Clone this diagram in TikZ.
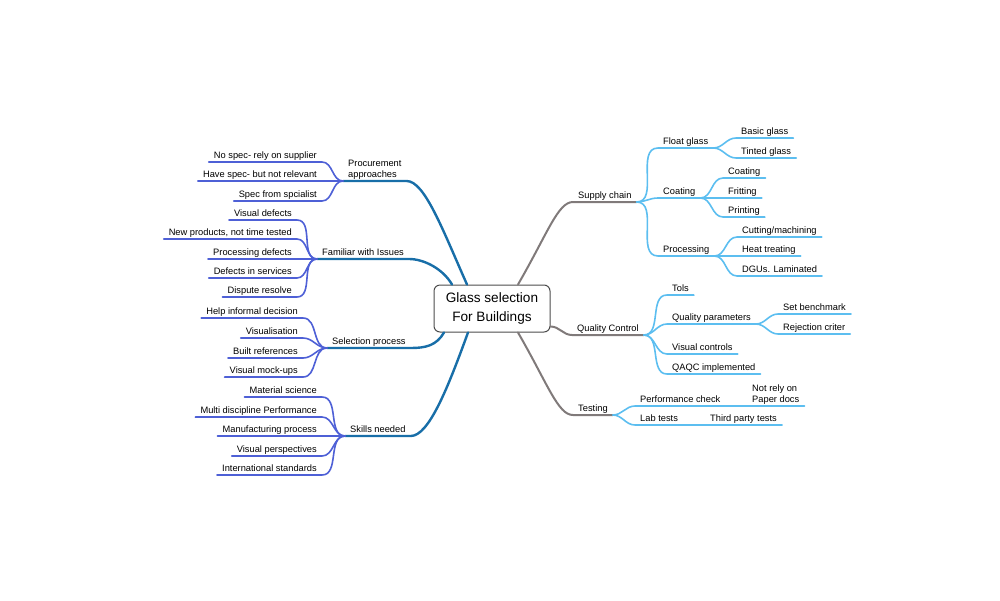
\documentclass[tikz,border=0pt]{standalone}
\usepackage{fontspec}
\setmainfont{Liberation Sans}
\usetikzlibrary{positioning}
\definecolor{trunkblue}{RGB}{24,110,168}
\definecolor{twigblue}{RGB}{78,96,214}
\definecolor{trunkgrey}{RGB}{128,122,122}
\definecolor{twigsky}{RGB}{92,190,240}

\begin{document}
\begin{tikzpicture}[
        x=1pt, y=1pt,
        topic/.style = {draw=black!70, rounded corners=6pt, line width=1pt, align=center, minimum width=116pt, minimum height=47pt, font=\fontsize{13.6}{19}\selectfont},
        tag/.style = {inner xsep=5pt, inner ysep=1.5pt, text height=7pt, text depth=2pt, font=\fontsize{9.3}{11}\selectfont},
        tagsw/.style = {tag, anchor=south west},
        tagse/.style = {tag, anchor=south east},
        trunkL/.style = {draw=trunkblue, line width=2.4pt, line cap=round},
        twigL/.style = {draw=twigblue, line width=1.6pt, line cap=round},
        trunkR/.style = {draw=trunkgrey, line width=2pt, line cap=round},
        twigR/.style = {draw=twigsky, line width=1.6pt, line cap=round}
    ]
        \useasboundingbox (0,0) rectangle (1000,-600);

        % Centre topic
        \node (glass) [topic] at (492,-308.5) {Glass selection\\For Buildings};

        % Supply chain
        \node (supply) [tagsw] at (573,-202) {Supply chain};
        \node (float) [tagsw] at (658,-148) {Float glass};
        \node (coat) [tagsw] at (658,-198) {Coating};
        \node (process) [tagsw] at (658,-256) {Processing};
        \node (basic) [tagsw] at (736,-138) {Basic glass};
        \node (tinted) [tagsw] at (736,-158) {Tinted glass};
        \node (coating) [tagsw] at (723,-178) {Coating};
        \node (fritting) [tagsw] at (723,-198) {Fritting};
        \node (printing) [tagsw] at (723,-217) {Printing};
        \node (cutting) [tagsw] at (737,-237) {Cutting/machining};
        \node (heat) [tagsw] at (737,-256) {Heat treating};
        \node (dgu) [tagsw] at (737,-276) {DGUs. Laminated};

        % Quality control
        \node (qc) [tagsw] at (572,-335) {Quality Control};
        \node (tols) [tagsw] at (667,-295) {Tols};
        \node (qparam) [tagsw] at (667,-324) {Quality parameters};
        \node (vctrl) [tagsw] at (667,-354) {Visual controls};
        \node (qaqc) [tagsw] at (667,-374) {QAQC implemented};
        \node (bench) [tagsw] at (778,-314) {Set benchmark};
        \node (reject) [tagsw] at (778,-334) {Rejection criter};

        % Testing
        \node (testing) [tagsw] at (573,-415) {Testing};
        \node (perf) [tagsw] at (635,-406) {Performance check};
        \node (lab) [tagsw] at (635,-425) {Lab tests};
        \node (paper) [tagsw, align=left, text height=, text depth=] at (747,-406) {Not rely on\\Paper docs};
        \node (third) [tagsw] at (705,-425) {Third party tests};

        % Procurement
        \node (procure) [tagsw, align=left, text height=, text depth=] at (343,-181) {Procurement\\approaches};
        \node (nospec) [tagse] at (322,-162) {No spec- rely on supplier};
        \node (havespec) [tagse] at (322,-181) {Have spec- but not relevant};
        \node (specfrom) [tagse] at (322,-201) {Spec from spcialist};

        % Familiar with issues
        \node (familiar) [tagsw] at (317,-259) {Familiar with Issues};
        \node (vdefect) [tagse] at (297,-220) {Visual defects};
        \node (newprod) [tagse] at (297,-239) {New products, not time tested};
        \node (pdefect) [tagse] at (297,-259) {Processing defects};
        \node (sdefect) [tagse] at (297,-278) {Defects in services};
        \node (dispute) [tagse] at (297,-297) {Dispute resolve};

        % Selection process
        \node (select) [tagsw] at (327,-348) {Selection process};
        \node (help) [tagse] at (303,-318) {Help informal decision};
        \node (visual) [tagse] at (303,-338) {Visualisation};
        \node (built) [tagse] at (303,-358) {Built references};
        \node (mockup) [tagse] at (303,-377) {Visual mock-ups};

        % Skills needed
        \node (skills) [tagsw] at (345,-436) {Skills needed};
        \node (matsci) [tagse] at (322,-397) {Material science};
        \node (multi) [tagse] at (322,-417) {Multi discipline Performance};
        \node (manuf) [tagse] at (322,-436) {Manufacturing process};
        \node (vpersp) [tagse] at (322,-456) {Visual perspectives};
        \node (intl) [tagse] at (322,-475) {International standards};

        % Right branches
        \draw [trunkR] ([xshift=26pt]glass.north) to[out=60, in=180, out distance=60pt, in distance=15pt] (supply.south west) -- (supply.south east);
        \draw [trunkR] ([yshift=-18pt]glass.east) to[out=0, in=180] (qc.south west) -- (qc.south east);
        \draw [trunkR] ([xshift=26pt]glass.south) to[out=-60, in=180, out distance=60pt, in distance=15pt] (testing.south west) -- (testing.south east);

        \draw [twigR] (supply.south east) to[out=0, in=180] (float.south west) -- (float.south east);
        \draw [twigR] (supply.south east) to[out=0, in=180] (coat.south west) -- (coat.south east);
        \draw [twigR] (supply.south east) to[out=0, in=180] (process.south west) -- (process.south east);
        \draw [twigR] (float.south east) to[out=0, in=180] (basic.south west) -- (basic.south east);
        \draw [twigR] (float.south east) to[out=0, in=180] (tinted.south west) -- (tinted.south east);
        \draw [twigR] (coat.south east) to[out=0, in=180] (coating.south west) -- (coating.south east);
        \draw [twigR] (coat.south east) to[out=0, in=180] (fritting.south west) -- (fritting.south east);
        \draw [twigR] (coat.south east) to[out=0, in=180] (printing.south west) -- (printing.south east);
        \draw [twigR] (process.south east) to[out=0, in=180] (cutting.south west) -- (cutting.south east);
        \draw [twigR] (process.south east) to[out=0, in=180] (heat.south west) -- (heat.south east);
        \draw [twigR] (process.south east) to[out=0, in=180] (dgu.south west) -- (dgu.south east);

        \draw [twigR] (qc.south east) to[out=0, in=180] (tols.south west) -- (tols.south east);
        \draw [twigR] (qc.south east) to[out=0, in=180] (qparam.south west) -- (qparam.south east);
        \draw [twigR] (qc.south east) to[out=0, in=180] (vctrl.south west) -- (vctrl.south east);
        \draw [twigR] (qc.south east) to[out=0, in=180] (qaqc.south west) -- (qaqc.south east);
        \draw [twigR] (qparam.south east) to[out=0, in=180] (bench.south west) -- (bench.south east);
        \draw [twigR] (qparam.south east) to[out=0, in=180] (reject.south west) -- (reject.south east);

        \draw [twigR] (testing.south east) to[out=0, in=180] (perf.south west) -- (perf.south east);
        \draw [twigR] (testing.south east) to[out=0, in=180] (lab.south west) -- (lab.south east);
        \draw [twigR] (perf.south east) -- (paper.south west) -- (paper.south east);
        \draw [twigR] (lab.south east) -- (third.south west) -- (third.south east);

        % Left branches
        \draw [trunkL] ([xshift=-25pt]glass.north) to[out=114, in=0, out distance=60pt, in distance=18pt] (procure.south east) -- (procure.south west);
        \draw [trunkL] ([xshift=-40pt]glass.north) to[out=120, in=0, out distance=18pt, in distance=15pt] (familiar.south east) -- (familiar.south west);
        \draw [trunkL] ([xshift=-48pt]glass.south) to[out=240, in=0, out distance=15pt, in distance=15pt] (select.south east) -- (select.south west);
        \draw [trunkL] ([xshift=-24pt]glass.south) to[out=250, in=0, out distance=60pt, in distance=18pt] (skills.south east) -- (skills.south west);

        \draw [twigL] (procure.south west) to[out=180, in=0] (nospec.south east) -- (nospec.south west);
        \draw [twigL] (procure.south west) to[out=180, in=0] (havespec.south east) -- (havespec.south west);
        \draw [twigL] (procure.south west) to[out=180, in=0] (specfrom.south east) -- (specfrom.south west);

        \draw [twigL] (familiar.south west) to[out=180, in=0] (vdefect.south east) -- (vdefect.south west);
        \draw [twigL] (familiar.south west) to[out=180, in=0] (newprod.south east) -- (newprod.south west);
        \draw [twigL] (familiar.south west) to[out=180, in=0] (pdefect.south east) -- (pdefect.south west);
        \draw [twigL] (familiar.south west) to[out=180, in=0] (sdefect.south east) -- (sdefect.south west);
        \draw [twigL] (familiar.south west) to[out=180, in=0] (dispute.south east) -- (dispute.south west);

        \draw [twigL] (select.south west) to[out=180, in=0] (help.south east) -- (help.south west);
        \draw [twigL] (select.south west) to[out=180, in=0] (visual.south east) -- (visual.south west);
        \draw [twigL] (select.south west) to[out=180, in=0] (built.south east) -- (built.south west);
        \draw [twigL] (select.south west) to[out=180, in=0] (mockup.south east) -- (mockup.south west);

        \draw [twigL] (skills.south west) to[out=180, in=0] (matsci.south east) -- (matsci.south west);
        \draw [twigL] (skills.south west) to[out=180, in=0] (multi.south east) -- (multi.south west);
        \draw [twigL] (skills.south west) to[out=180, in=0] (manuf.south east) -- (manuf.south west);
        \draw [twigL] (skills.south west) to[out=180, in=0] (vpersp.south east) -- (vpersp.south west);
        \draw [twigL] (skills.south west) to[out=180, in=0] (intl.south east) -- (intl.south west);

    \end{tikzpicture}
\end{document}
